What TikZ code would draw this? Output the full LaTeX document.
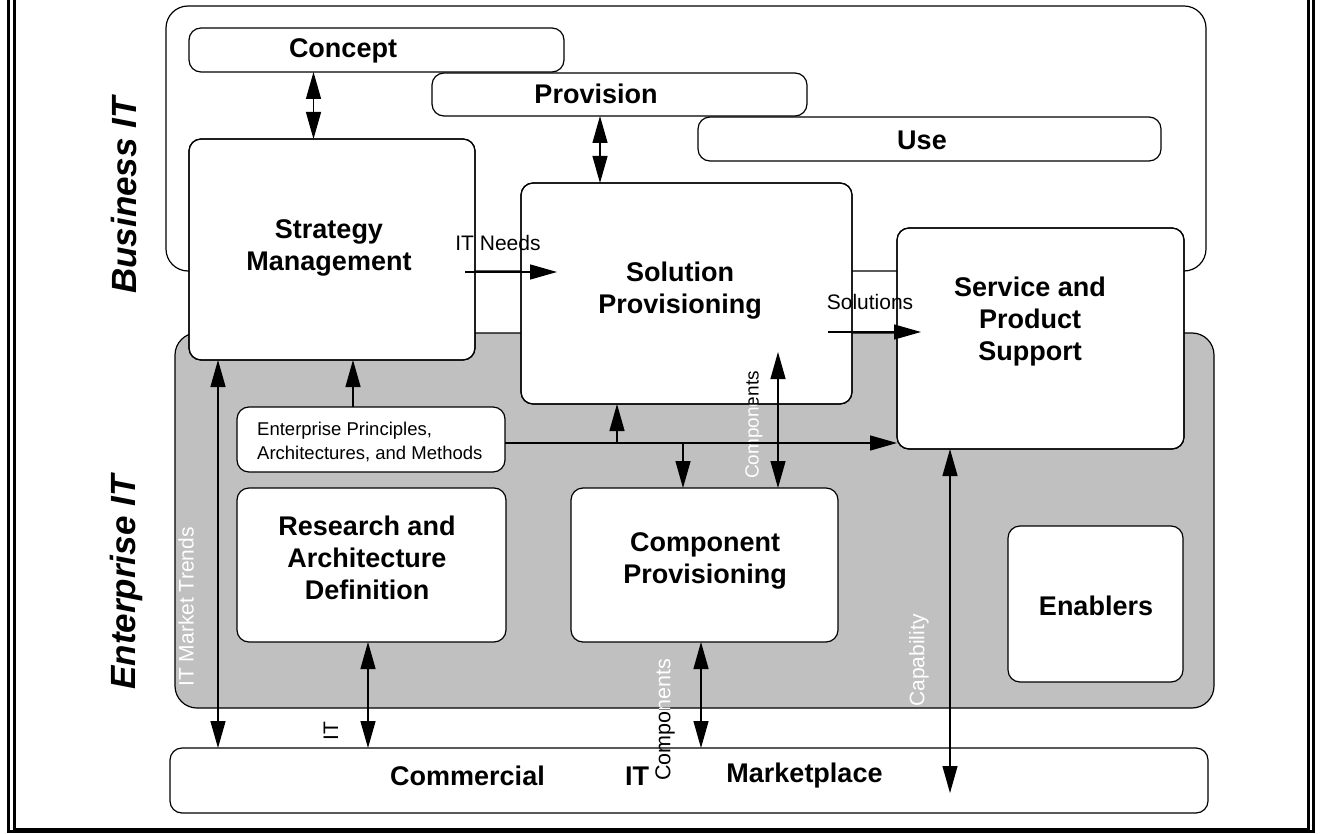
\documentclass[tikz,border=0pt]{standalone}
\usepackage{fontspec}
\setmainfont{Liberation Sans}
\usetikzlibrary{arrows.meta}
\definecolor{entgray}{HTML}{C0C0C0}
\tikzset{
  boxline/.style={draw=black, line width=1.2pt, rounded corners=12pt},
  box/.style={boxline, fill=white, inner sep=0pt, outer sep=0pt},
  cont/.style={draw=black, line width=1.2pt, rounded corners=22pt, inner sep=0pt, outer sep=0pt},
  big/.style={font=\fontsize{27}{32}\selectfont\bfseries, align=center, inner sep=0pt},
  lbl/.style={font=\fontsize{21}{24}\selectfont, inner sep=0pt},
  side/.style={font=\fontsize{35}{40}\selectfont\bfseries\itshape, rotate=90, inner sep=0pt},
  tipT/.tip={Triangle[length=27pt,width=15pt]},
  arr/.style={-tipT, line width=1.3pt},
  darr/.style={tipT-tipT, line width=1.3pt},
  frameline/.style={line width=3pt},
}
\begin{document}
\begin{tikzpicture}[x=1pt,y=-1pt]
\useasboundingbox (0,0) rectangle (1321,834);
% frame
\draw[frameline] (8.5,-5) -- (8.5,831.5) -- (1313.5,831.5) -- (1313.5,-5);
\draw[frameline] (14.5,-5) -- (14.5,829) -- (1308.5,829) -- (1308.5,-5);
% containers
\node[cont, fill=white, minimum width=1040pt, minimum height=265pt] (bizit) at (686,138.5) {};
\node[cont, fill=entgray, minimum width=1039pt, minimum height=375pt] (entit) at (694.5,520.5) {};
% phase boxes
\node[box, minimum width=375pt, minimum height=44pt] (concept) at (376.5,50) {};
\node[box, minimum width=375pt, minimum height=43pt] (provision) at (619.5,94.5) {};
\node[box, minimum width=463pt, minimum height=44pt] (use) at (929.5,139) {};
% main boxes
\node[box, minimum width=286pt, minimum height=221pt] (strat) at (332,249.5) {};
\node[box, minimum width=331pt, minimum height=221pt] (sol) at (686.5,293.5) {};
\node[box, minimum width=287pt, minimum height=221pt] (serv) at (1040.5,338.5) {};
\node[box, minimum width=268pt, minimum height=65pt] (ep) at (371,439.5) {};
\node[box, minimum width=269pt, minimum height=154pt] (rad) at (371.5,565) {};
\node[box, minimum width=267pt, minimum height=154pt] (cp) at (704.5,565) {};
\node[box, minimum width=175pt, minimum height=156pt] (enab) at (1095.5,604) {};
\node[box, minimum width=1038pt, minimum height=65pt] (market) at (689,780.5) {};
% box texts
\node[big] (tconcept) at (343,51) {Concept};
\node[big] (tprov) at (596,94) {Provision};
\node[big] (tuse) at (922,140) {Use};
\node[big] (tstrat) at (329,248) {Strategy\\Management};
\node[big] (tsol) at (680,291) {Solution\\Provisioning};
\node[big] (tserv) at (1030,322) {Service and\\Product\\Support};
\node[big] (trad) at (367,558) {Research and\\Architecture\\Definition};
\node[big] (tcp) at (705,561) {Component\\Provisioning};
\node[big] (tenab) at (1096,606) {Enablers};
\node[big] (tcomm) at (467.5,776) {Commercial};
\node[big] (tit) at (637,776) {IT};
\node[big] (tmkt) at (804.5,776) {Marketplace};
\node[font=\fontsize{18.5}{24}\selectfont, align=left, inner sep=0pt, anchor=west] (tep) at (257,442) {Enterprise Principles,\\Architectures, and Methods};
% side titles
\node[side] (tbiz) at (124,195.5) {Business IT};
\node[side] (tent) at (126,582.5) {Enterprise IT};
% connector labels
\node[lbl] (litneeds) at (498,243) {IT Needs};
\node[lbl] (lsolutions) at (870,302) {Solutions};
\node[lbl, rotate=90, text=white] (ltrends) at (186,607) {IT Market Trends};
\node[lbl, rotate=90, text=white] (lcap) at (919,660.5) {Capability};
\node[lbl, rotate=90] (lit) at (331,731) {IT};
% Components label over the solution box: black on white, white on gray
\begin{scope}
  \clip (720,340) rectangle (790,404);
  \node[lbl, font=\fontsize{19}{22}\selectfont, rotate=90] (lcomp1) at (754,425) {Components};
\end{scope}
\begin{scope}
  \clip (720,404) rectangle (790,500);
  \node[lbl, font=\fontsize{19}{22}\selectfont, rotate=90, text=white] (lcomp1w) at (754,425) {Components};
\end{scope}
% Components label over the marketplace: white on gray, black on white
\begin{scope}
  \clip (630,708) rectangle (690,800);
  \node[lbl, font=\fontsize{21.5}{24}\selectfont, rotate=90] (lcomp2) at (665,720) {Components};
\end{scope}
\begin{scope}
  \clip (630,600) rectangle (690,708);
  \node[lbl, font=\fontsize{21.5}{24}\selectfont, rotate=90, text=white] (lcomp2w) at (665,720) {Components};
\end{scope}
% borders over labels
\foreach \n in {strat,sol,serv}
  \draw[boxline] (\n.south west) rectangle (\n.north east);
% coordinates
\coordinate (xA) at (313.5,0);
\coordinate (xB) at (600,0);
\coordinate (xTr) at (218,0);
\coordinate (xEP) at (353,0);
\coordinate (xUp) at (617,0);
\coordinate (xDn) at (683,0);
\coordinate (xCo) at (778,0);
\coordinate (xRa) at (368,0);
\coordinate (xCp) at (701,0);
\coordinate (xCap) at (950,0);
\coordinate (hline) at (0,443);
\coordinate (itnS) at (465,272);
\coordinate (itnE) at (557,272);
\coordinate (solS) at (828,332);
\coordinate (solE) at (921,332);
\coordinate (coTop) at (778,352);
\coordinate (capEnd) at (950,793);
% connectors
\draw[darr] (concept.south -| xA) -- (strat.north -| xA);
\draw[darr] (provision.south -| xB) -- (sol.north -| xB);
\draw[arr] (itnS) -- (itnE);
\draw[arr] (solS) -- (solE);
\draw[darr] (strat.south -| xTr) -- (market.north -| xTr);
\draw[arr] (ep.north -| xEP) -- (strat.south -| xEP);
\draw[arr] (ep.east |- hline) -- (serv.west |- hline);
\draw[arr] (xUp |- hline) -- (sol.south -| xUp);
\draw[arr] (xDn |- hline) -- (cp.north -| xDn);
\draw[darr] (coTop) -- (cp.north -| xCo);
\draw[darr] (rad.south -| xRa) -- (market.north -| xRa);
\draw[darr] (cp.south -| xCp) -- (market.north -| xCp);
\draw[darr] (serv.south -| xCap) -- (capEnd);
\end{tikzpicture}
\end{document}
